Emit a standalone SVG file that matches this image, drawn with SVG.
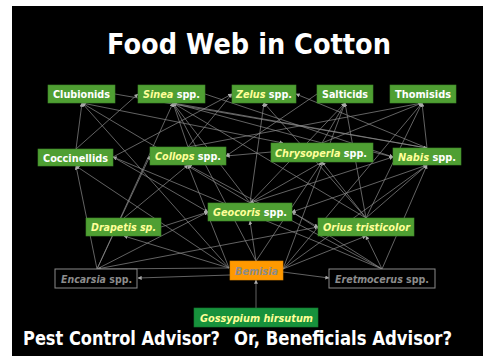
<svg xmlns="http://www.w3.org/2000/svg" width="483" height="356" viewBox="0 0 483 356">
<style>
.bg{fill:#000}
.g rect{fill:#4f9f33;stroke:#3f8a28;stroke-width:0.6}
.lbl{font-family:"DejaVu Sans",Verdana,sans-serif;font-weight:bold;font-size:11px;fill:#fff}
.it{font-style:italic;fill:#ffff99}
.lbl.gt{fill:#8c8c8c}
.gi{font-style:italic}
.ttl{font-family:"DejaVu Sans",Verdana,sans-serif;font-weight:bold;fill:#fff}
#edges line{stroke:#8c8c8c;stroke-width:0.7;marker-end:url(#ah)}
</style>
<defs>
<marker id="ah" viewBox="0 0 6 6" refX="5.5" refY="3" markerWidth="4" markerHeight="4" markerUnits="userSpaceOnUse" orient="auto">
<path d="M0,0 L6,3 L0,6 z" fill="#aaa"/>
</marker>
</defs>
<rect width="483" height="356" fill="#fff"/>
<rect class="bg" x="12" y="6" width="471" height="350"/>
<text class="ttl" x="107" y="54" font-size="29" textLength="284" lengthAdjust="spacingAndGlyphs">Food Web in Cotton</text>
<g id="edges">
<line x1="256" y1="308" x2="256" y2="280"/>
<line x1="230" y1="275" x2="138" y2="278"/>
<line x1="283" y1="272" x2="329" y2="278"/>
<line x1="229" y1="268" x2="82" y2="103"/>
<line x1="229" y1="268" x2="76" y2="166"/>
<line x1="229" y1="268" x2="188" y2="165"/>
<line x1="229" y1="268" x2="124" y2="236"/>
<line x1="229" y1="268" x2="97" y2="269"/>
<line x1="256" y1="261" x2="250" y2="221"/>
<line x1="256" y1="261" x2="173" y2="103"/>
<line x1="256" y1="261" x2="322" y2="162"/>
<line x1="283" y1="269" x2="366" y2="236"/>
<line x1="283" y1="269" x2="427" y2="165"/>
<line x1="283" y1="269" x2="345" y2="103"/>
<line x1="283" y1="269" x2="422" y2="103"/>
<line x1="97" y1="269" x2="76" y2="166"/>
<line x1="97" y1="269" x2="150" y2="156"/>
<line x1="97" y1="269" x2="173" y2="103"/>
<line x1="97" y1="269" x2="208" y2="212"/>
<line x1="97" y1="269" x2="318" y2="227"/>
<line x1="382" y1="269" x2="366" y2="236"/>
<line x1="382" y1="269" x2="188" y2="165"/>
<line x1="382" y1="269" x2="113" y2="157"/>
<line x1="382" y1="269" x2="292" y2="212"/>
<line x1="382" y1="269" x2="427" y2="165"/>
<line x1="161" y1="227" x2="208" y2="212"/>
<line x1="124" y1="218" x2="188" y2="165"/>
<line x1="250" y1="203" x2="264" y2="103"/>
<line x1="250" y1="203" x2="173" y2="103"/>
<line x1="250" y1="203" x2="345" y2="103"/>
<line x1="250" y1="203" x2="82" y2="103"/>
<line x1="250" y1="203" x2="393" y2="157"/>
<line x1="292" y1="212" x2="318" y2="227"/>
<line x1="366" y1="218" x2="173" y2="103"/>
<line x1="366" y1="218" x2="264" y2="103"/>
<line x1="366" y1="218" x2="322" y2="162"/>
<line x1="366" y1="218" x2="422" y2="103"/>
<line x1="366" y1="218" x2="345" y2="103"/>
<line x1="366" y1="218" x2="427" y2="165"/>
<line x1="76" y1="149" x2="138" y2="94"/>
<line x1="113" y1="157" x2="232" y2="94"/>
<line x1="113" y1="157" x2="208" y2="212"/>
<line x1="76" y1="149" x2="82" y2="103"/>
<line x1="188" y1="147" x2="232" y2="94"/>
<line x1="188" y1="147" x2="173" y2="103"/>
<line x1="188" y1="147" x2="422" y2="103"/>
<line x1="271" y1="152" x2="226" y2="156"/>
<line x1="322" y1="143" x2="173" y2="103"/>
<line x1="322" y1="143" x2="345" y2="103"/>
<line x1="322" y1="143" x2="422" y2="103"/>
<line x1="82" y1="103" x2="283" y2="143"/>
<line x1="373" y1="152" x2="393" y2="157"/>
<line x1="322" y1="162" x2="250" y2="203"/>
<line x1="427" y1="148" x2="422" y2="103"/>
<line x1="427" y1="148" x2="173" y2="103"/>
<line x1="427" y1="148" x2="296" y2="94"/>
<line x1="427" y1="165" x2="292" y2="212"/>
<line x1="205" y1="94" x2="393" y2="157"/>
<line x1="317" y1="94" x2="226" y2="156"/>
<line x1="115" y1="94" x2="427" y2="148"/>
</g>
<g id="clubionids" class="g"><rect x="48" y="85" width="67" height="18"/><text class="lbl" x="53" y="98" textLength="57" lengthAdjust="spacingAndGlyphs">Clubionids</text></g>
<g id="sinea" class="g"><rect x="138" y="85" width="67" height="18"/><text class="lbl" x="143" y="98" textLength="57" lengthAdjust="spacingAndGlyphs"><tspan class="it">Sinea</tspan> spp.</text></g>
<g id="zelus" class="g"><rect x="232" y="85" width="64" height="18"/><text class="lbl" x="236" y="98" textLength="56" lengthAdjust="spacingAndGlyphs"><tspan class="it">Zelus</tspan> spp.</text></g>
<g id="salticids" class="g"><rect x="317" y="85" width="56" height="18"/><text class="lbl" x="322" y="98" textLength="46" lengthAdjust="spacingAndGlyphs">Salticids</text></g>
<g id="thomisids" class="g"><rect x="390" y="85" width="66" height="18"/><text class="lbl" x="395" y="98" textLength="56" lengthAdjust="spacingAndGlyphs">Thomisids</text></g>
<g id="coccinellids" class="g"><rect x="38" y="149" width="75" height="17"/><text class="lbl" x="43" y="161.5" textLength="65" lengthAdjust="spacingAndGlyphs">Coccinellids</text></g>
<g id="collops" class="g"><rect x="150" y="147" width="76" height="18"/><text class="lbl" x="155" y="160" textLength="66" lengthAdjust="spacingAndGlyphs"><tspan class="it">Collops</tspan> spp.</text></g>
<g id="chrysoperla" class="g"><rect x="271" y="143" width="102" height="19"/><text class="lbl" x="275" y="157" textLength="92" lengthAdjust="spacingAndGlyphs"><tspan class="it">Chrysoperla</tspan> spp.</text></g>
<g id="nabis" class="g"><rect x="393" y="148" width="68" height="17"/><text class="lbl" x="398" y="161" textLength="58" lengthAdjust="spacingAndGlyphs"><tspan class="it">Nabis</tspan> spp.</text></g>
<g id="geocoris" class="g"><rect x="208" y="203" width="84" height="18"/><text class="lbl" x="213" y="216" textLength="74" lengthAdjust="spacingAndGlyphs"><tspan class="it">Geocoris</tspan> spp.</text></g>
<g id="drapetis" class="g"><rect x="86" y="218" width="75" height="18"/><text class="lbl" x="91" y="231" textLength="65" lengthAdjust="spacingAndGlyphs"><tspan class="it">Drapetis sp.</tspan></text></g>
<g id="orius" class="g"><rect x="318" y="218" width="96" height="18"/><text class="lbl" x="323" y="231" textLength="87" lengthAdjust="spacingAndGlyphs"><tspan class="it">Orius tristicolor</tspan></text></g>
<g id="bemisia"><rect x="230" y="261" width="53" height="19" fill="#ff9900" stroke="#e08800" stroke-width="0.6"/><text class="lbl gt gi" x="235" y="275" textLength="43" lengthAdjust="spacingAndGlyphs">Bemisia</text></g>
<g id="encarsia"><rect x="55" y="269" width="82" height="19" fill="#000" stroke="#8a8a8a" stroke-width="1"/><text class="lbl gt" x="61" y="283" textLength="71" lengthAdjust="spacingAndGlyphs"><tspan class="gi">Encarsia</tspan> spp.</text></g>
<g id="eretmocerus"><rect x="329" y="269" width="106" height="19" fill="#000" stroke="#8a8a8a" stroke-width="1"/><text class="lbl gt" x="335" y="283" textLength="94" lengthAdjust="spacingAndGlyphs"><tspan class="gi">Eretmocerus</tspan> spp.</text></g>
<g id="gossypium"><rect x="194" y="308" width="124" height="19" fill="#17923c" stroke="#127a30" stroke-width="0.6"/><text class="lbl" x="200" y="322" textLength="113" lengthAdjust="spacingAndGlyphs"><tspan class="it">Gossypium hirsutum</tspan></text></g>
<text class="ttl" x="23" y="345" font-size="19.5" textLength="197" lengthAdjust="spacingAndGlyphs">Pest Control Advisor?</text>
<text class="ttl" x="234" y="345" font-size="19.5" textLength="218" lengthAdjust="spacingAndGlyphs">Or, Beneficials Advisor?</text>
</svg>
